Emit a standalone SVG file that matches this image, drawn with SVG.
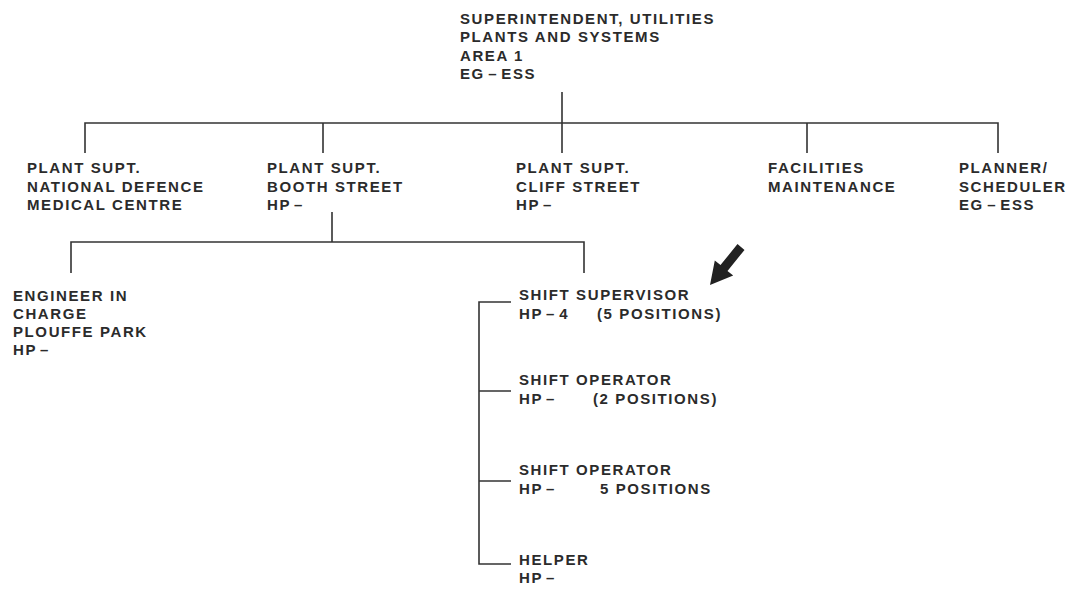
<svg xmlns="http://www.w3.org/2000/svg" width="1071" height="589" viewBox="0 0 1071 589">
<style>
text{font-family:"Liberation Sans",Arial,sans-serif;font-weight:bold;font-size:15px;letter-spacing:1.6px;fill:#2b2b2b}
.d{word-spacing:-2.5px}
.c{fill:none;stroke:#333;stroke-width:1.6}
</style>
<rect width="1071" height="589" fill="#fff"/>
<g id="connectors">
<path class="c" d="M562 92V123M85 153V123H998V153M323 123V153M562 123V153M807 123V153"/>
<path class="c" d="M332 212V242M71 273V242H584V273"/>
<path class="c" d="M511 302H479V564H511M479 391H511M479 481H511"/>
</g>
<g id="n-superintendent">
<text x="460" y="24">SUPERINTENDENT, UTILITIES</text>
<text x="460" y="42.3">PLANTS AND SYSTEMS</text>
<text x="460" y="60.6">AREA 1</text>
<text x="460" y="79" class="d">EG – ESS</text>
</g>
<g id="n-ndmc">
<text x="27" y="173">PLANT SUPT.</text>
<text x="27" y="191.5">NATIONAL DEFENCE</text>
<text x="27" y="210">MEDICAL CENTRE</text>
</g>
<g id="n-booth">
<text x="267" y="173">PLANT SUPT.</text>
<text x="267" y="191.5">BOOTH STREET</text>
<text x="267" y="210" class="d">HP –</text>
</g>
<g id="n-cliff">
<text x="516" y="173">PLANT SUPT.</text>
<text x="516" y="191.5">CLIFF STREET</text>
<text x="516" y="210" class="d">HP –</text>
</g>
<g id="n-facilities">
<text x="768" y="173">FACILITIES</text>
<text x="768" y="191.5">MAINTENANCE</text>
</g>
<g id="n-planner">
<text x="959" y="173">PLANNER/</text>
<text x="959" y="191.5">SCHEDULER</text>
<text x="959" y="210" class="d">EG – ESS</text>
</g>
<g id="n-engineer">
<text x="13" y="301">ENGINEER IN</text>
<text x="13" y="319">CHARGE</text>
<text x="13" y="337">PLOUFFE PARK</text>
<text x="13" y="355" class="d">HP –</text>
</g>
<g id="n-supervisor">
<text x="519" y="300">SHIFT SUPERVISOR</text>
<text x="519" y="319" class="d">HP – 4</text>
<text x="597" y="319">(5 POSITIONS)</text>
</g>
<g id="n-operator1">
<text x="519" y="385">SHIFT OPERATOR</text>
<text x="519" y="404" class="d">HP –</text>
<text x="593" y="404">(2 POSITIONS)</text>
</g>
<g id="n-operator2">
<text x="519" y="475">SHIFT OPERATOR</text>
<text x="519" y="494" class="d">HP –</text>
<text x="600" y="494">5 POSITIONS</text>
</g>
<g id="n-helper">
<text x="519" y="565">HELPER</text>
<text x="519" y="583" class="d">HP –</text>
</g>
<g id="arrow">
<polygon points="737.5,244.1 744.5,249.9 727.5,270.9 733.2,275.6 710,285 714.8,260.4 720.5,265.1" fill="#222"/>
</g>
</svg>
